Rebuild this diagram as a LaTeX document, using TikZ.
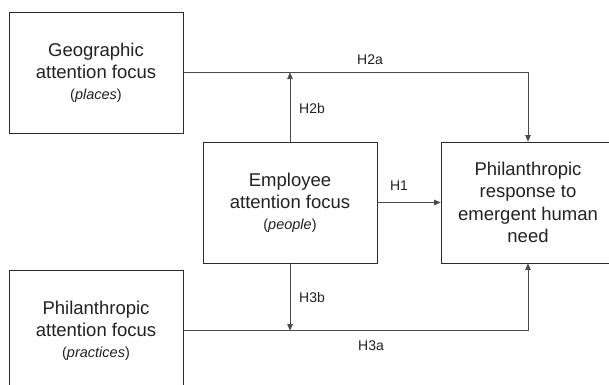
\documentclass[tikz,border=0pt]{standalone}
\usepackage{fontspec}
\setmainfont{Liberation Sans}
\usetikzlibrary{arrows.meta}
\definecolor{boxc}{HTML}{2A2A2A}
\definecolor{linec}{HTML}{4A4A4A}
\definecolor{txtc}{HTML}{222222}
\begin{document}
\begin{tikzpicture}[x=1pt,y=-1pt,
  box/.style={draw=boxc,line width=0.85pt,minimum width=174pt,minimum height=121pt,inner sep=0pt,align=center,text=txtc,font=\fontsize{18.5}{22.5}\selectfont},
  conn/.style={draw=linec,line width=0.75pt},
  arr/.style={conn,-{Triangle[length=6.5pt,width=5.5pt]}},
  lab/.style={text=txtc,font=\fontsize{14}{16}\selectfont,inner sep=0pt}]
\clip (0,0) rectangle (609,384);
\fill[white] (0,0) rectangle (609,384);
\node[box] (geo) at (96,72.5) {Geographic\\attention focus\\[-2pt]{\fontsize{14.5}{17}\selectfont(\textit{places})}};
\node[box] (emp) at (290,202.5) {Employee\\attention focus\\[-2pt]{\fontsize{14.5}{17}\selectfont(\textit{people})}};
\node[box] (resp) at (528,202.5) {Philanthropic\\response to\\emergent human\\need};
\node[box] (phil) at (96,330.5) {Philanthropic\\attention focus\\[-2pt]{\fontsize{14.5}{17}\selectfont(\textit{practices})}};
\draw[arr] (geo.east) -| (resp.north);
\draw[arr] (emp.north) -- (emp.north |- geo.east);
\draw[arr] (emp.east) -- (resp.west);
\draw[arr] (phil.east) -| (resp.south);
\draw[arr] (emp.south) -- (emp.south |- phil.east);
\node[lab] (l2a) at (370,60) {H2a};
\node[lab] (l2b) at (312,108) {H2b};
\node[lab] (l1) at (399,186) {H1};
\node[lab] (l3b) at (312,297) {H3b};
\node[lab] (l3a) at (371,346) {H3a};
\end{tikzpicture}
\end{document}
